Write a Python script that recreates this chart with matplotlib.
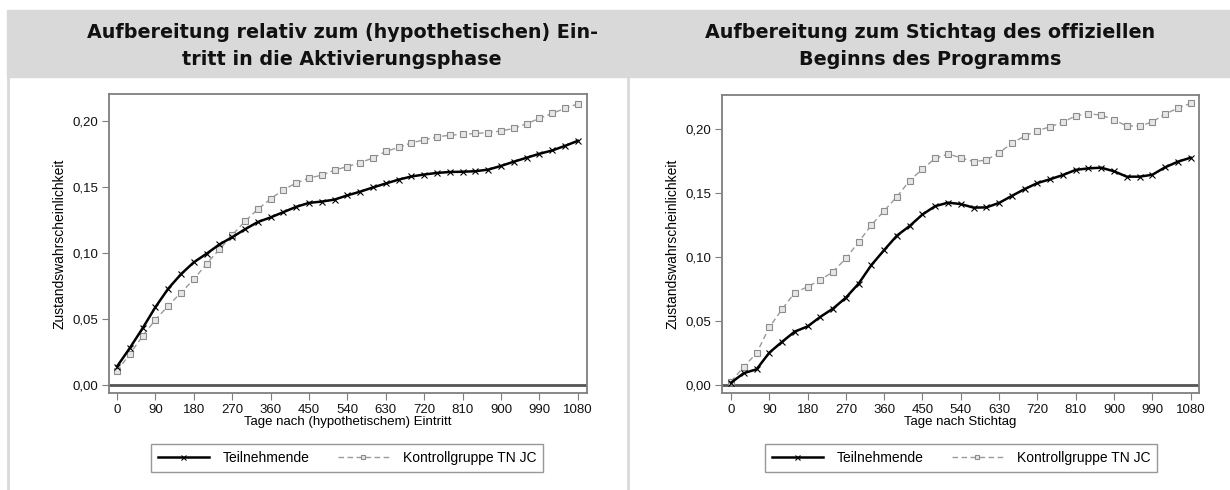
import matplotlib.pyplot as plt
from matplotlib.patches import Rectangle
from matplotlib.lines import Line2D
from matplotlib.ticker import FuncFormatter

# Tage ab Eintritt / Stichtag (alle 30 Tage ein Wert)
tage = list(range(0, 1081, 30))
xticks = list(range(0, 1081, 90))
yticks = [0.0, 0.05, 0.10, 0.15, 0.20]

# Links: relativ zum (hypothetischen) Eintritt
teilnehmende_eintritt = [
    0.014, 0.028, 0.043, 0.059, 0.073, 0.084, 0.093, 0.0995, 0.1065, 0.112,
    0.118, 0.1235, 0.127, 0.131, 0.135, 0.138, 0.139, 0.1405, 0.1437, 0.1465,
    0.1497, 0.1527, 0.1556, 0.158, 0.1595, 0.1607, 0.1614, 0.1616, 0.162, 0.1632,
    0.166, 0.1692, 0.1722, 0.1752, 0.1777, 0.1812, 0.185]
kontrolle_eintritt = [
    0.0105, 0.0235, 0.037, 0.0495, 0.060, 0.070, 0.080, 0.092, 0.1027, 0.1137,
    0.124, 0.1332, 0.141, 0.148, 0.153, 0.1568, 0.159, 0.1628, 0.1655, 0.1685,
    0.172, 0.177, 0.180, 0.1835, 0.1857, 0.188, 0.1893, 0.1899, 0.1906, 0.1912,
    0.1925, 0.1944, 0.198, 0.202, 0.2058, 0.2096, 0.213]

# Rechts: zum Stichtag des offiziellen Programmbeginns
teilnehmende_stichtag = [
    0.002, 0.0095, 0.0125, 0.0255, 0.034, 0.042, 0.046, 0.0535, 0.060, 0.0685,
    0.0795, 0.094, 0.1057, 0.117, 0.1245, 0.1335, 0.140, 0.1427, 0.1416, 0.1388,
    0.139, 0.1425, 0.148, 0.1533, 0.158, 0.161, 0.1643, 0.1683, 0.1695, 0.170,
    0.1672, 0.163, 0.163, 0.1645, 0.1703, 0.1747, 0.1778]
kontrolle_stichtag = [
    0.0028, 0.0146, 0.025, 0.0453, 0.0594, 0.0724, 0.077, 0.0823, 0.0888, 0.0992,
    0.112, 0.1252, 0.1364, 0.1474, 0.1599, 0.169, 0.1773, 0.1807, 0.1778, 0.1747,
    0.176, 0.1817, 0.189, 0.1948, 0.1989, 0.202, 0.2055, 0.2106, 0.212, 0.2112,
    0.2073, 0.2026, 0.2026, 0.2057, 0.212, 0.2164, 0.2203]

titel_links = "Aufbereitung relativ zum (hypothetischen) Ein-\ntritt in die Aktivierungsphase"
titel_rechts = "Aufbereitung zum Stichtag des offiziellen\nBeginns des Programms"
xlabel_links = "Tage nach (hypothetischem) Eintritt"
xlabel_rechts = "Tage nach Stichtag"
ylabel = "Zustandswahrscheinlichkeit"
serien = ["Teilnehmende", "Kontrollgruppe TN JC"]

W, H = 1230, 490
fig = plt.figure(figsize=(W / 100, H / 100), dpi=100)
plt.rcParams['font.family'] = ['Liberation Sans', 'DejaVu Sans']


def px(x0, y0, x1, y1):
    # Pixelrechteck (von oben gemessen) -> Figure-Koordinaten
    return [x0 / W, 1 - y1 / H, (x1 - x0) / W, (y1 - y0) / H]


hell = '#d9d9d9'
# Kopfzeile und Trennlinien der Tabelle
fig.patches.append(Rectangle((7 / W, 1 - 77 / H), (W - 7) / W, 67 / H,
                             transform=fig.transFigure, color=hell, zorder=0))
for xl in (8, 628):
    fig.add_artist(Line2D([xl / W, xl / W], [0, 1 - 77 / H], transform=fig.transFigure,
                          color=hell, lw=2))

for xc, titel in ((342, titel_links), (930, titel_rechts)):
    fig.text(xc / W, 1 - 46 / H, titel, ha='center', va='center', fontsize=13.8,
             fontweight='bold', family='DejaVu Sans', linespacing=1.5, color='#111111')

komma = FuncFormatter(lambda v, _: f"{v:.2f}".replace('.', ','))


def panel(rect, xlim, ylim, y_tn, y_kg, xlabel, legend_xy):
    ax = fig.add_axes(rect)
    ax.plot(tage, y_tn, color='black', lw=1.8, marker='x', ms=4.5, mew=0.8, zorder=4)
    ax.plot(tage, y_kg, color='#9a9a9a', lw=1.0, ls=(0, (4, 2.5)), marker='s', ms=3.8,
            mfc='#e6e6e6', mec='#8c8c8c', mew=0.8, zorder=3)
    ax.axhline(0, color='#555555', lw=2.0, zorder=2)
    ax.set_xlim(*xlim)
    ax.set_ylim(*ylim)
    ax.set_xticks(xticks)
    ax.set_yticks(yticks)
    ax.yaxis.set_major_formatter(komma)
    for s in ax.spines.values():
        s.set_color('#7f7f7f')
        s.set_linewidth(1.3)
    ax.tick_params(axis='both', direction='out', length=5, width=0.8, color='#7f7f7f',
                   labelsize=9.5, labelcolor='#111111', pad=3)
    ax.set_xlabel(xlabel, fontsize=9.5, labelpad=0)
    ax.set_ylabel(ylabel, fontsize=10, labelpad=4)
    handles = ax.get_lines()[:2]
    lg = fig.legend(handles, serien, loc='center', ncol=2,
                    bbox_to_anchor=(legend_xy[0] / W, 1 - legend_xy[1] / H),
                    bbox_transform=fig.transFigure, frameon=True, fancybox=False,
                    edgecolor='#7f7f7f', fontsize=10, handlelength=3.7, numpoints=1,
                    borderpad=0.5, borderaxespad=0, handletextpad=1.0,
                    columnspacing=2.0, markerscale=0.8)
    lg.get_frame().set_linewidth(1.0)
    return ax


panel(px(109, 94, 587, 393), (-18.75, 1101.6), (-0.00606, 0.2205),
      teilnehmende_eintritt, kontrolle_eintritt, xlabel_links, (347, 458))
panel(px(722, 95, 1199, 393), (-21.1, 1099.7), (-0.006, 0.2268),
      teilnehmende_stichtag, kontrolle_stichtag, xlabel_rechts, (961, 458))

fig.savefig('out.png', dpi=100, facecolor='white')
